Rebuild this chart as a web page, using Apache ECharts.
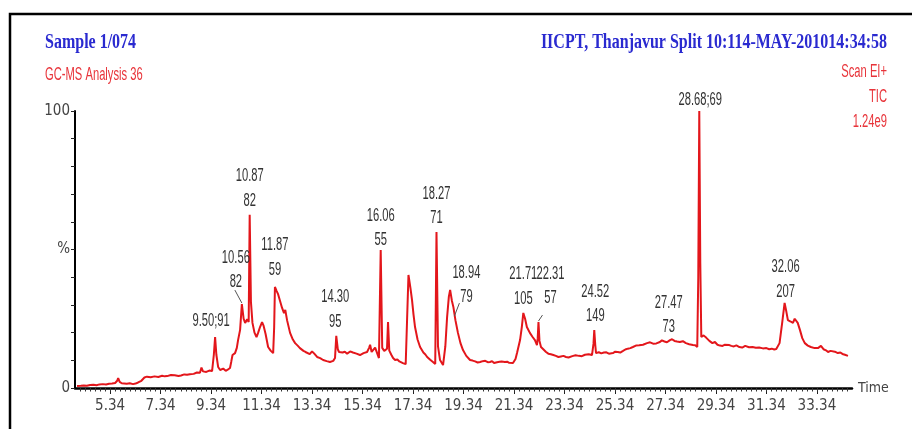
<!DOCTYPE html>
<html>
<head>
<meta charset="utf-8">
<script src="https://cdn.jsdelivr.net/npm/echarts@6/dist/echarts.min.js"></script>
<style>
  html, body { margin: 0; padding: 0; background: #fff; }
  #chart { width: 912px; height: 429px; }
</style>
</head>
<body>
<div id="chart"></div>
<script>
// Total ion chromatogram as [retention time (min), relative intensity (%)]
const traceEarly = [
  [4.03, 0.7], [4.18, 0.8], [4.30, 0.9], [4.42, 0.8], [4.55, 1.1], [4.68, 1.2], [4.80, 1.0], [4.92, 1.3],
  [5.05, 1.4], [5.18, 1.3], [5.30, 1.5], [5.42, 1.6], [5.54, 1.8], [5.62, 2.6], [5.66, 3.6], [5.72, 2.2],
  [5.80, 1.7], [5.90, 1.6], [6.00, 1.5], [6.12, 1.7], [6.25, 1.4], [6.35, 1.6], [6.45, 2.0], [6.58, 2.6],
  [6.70, 3.8], [6.80, 4.1], [6.95, 3.9], [7.10, 4.2], [7.25, 4.0], [7.40, 4.4], [7.50, 4.2], [7.60, 4.3],
  [7.75, 4.7], [7.90, 4.6], [8.05, 4.3], [8.15, 4.5], [8.28, 4.9], [8.39, 4.8], [8.50, 5.0], [8.65, 5.1],
  [8.78, 5.6], [8.90, 5.5], [8.96, 7.4], [9.02, 6.0], [9.15, 5.8], [9.27, 6.3], [9.38, 6.1], [9.45, 12.0],
  [9.50, 18.4], [9.55, 12.0], [9.62, 7.6], [9.70, 6.5], [9.82, 7.0], [9.92, 6.2], [10.00, 6.6], [10.09, 7.2],
  [10.14, 9.5], [10.19, 11.9], [10.29, 12.6], [10.36, 14.5], [10.41, 17.3], [10.49, 21.0], [10.56, 30.3],
  [10.63, 25.0], [10.69, 23.5], [10.77, 24.8], [10.83, 23.8], [10.87, 62.5], [10.92, 31.0], [10.98, 23.5],
  [11.06, 20.0], [11.14, 18.4], [11.20, 19.8], [11.28, 22.0], [11.36, 23.8], [11.42, 22.5], [11.50, 19.5],
  [11.60, 14.8], [11.70, 13.5], [11.80, 12.6], [11.84, 22.0], [11.87, 36.5], [11.94, 35.0], [11.99, 34.0]
];
const traceMid = [
  [12.07, 31.5], [12.15, 29.0], [12.23, 27.0], [12.28, 28.2], [12.35, 24.5], [12.47, 19.9], [12.58, 17.5],
  [12.67, 16.2], [12.78, 15.2], [12.86, 14.4], [12.93, 14.8], [13.00, 13.4], [13.08, 13.0], [13.14, 12.6],
  [13.25, 12.2], [13.34, 13.2], [13.42, 12.5], [13.54, 11.2], [13.60, 11.6], [13.66, 10.8], [13.78, 10.1],
  [13.85, 10.4], [13.92, 9.7], [14.05, 9.4], [14.18, 9.8], [14.25, 10.8], [14.30, 18.8], [14.36, 14.0],
  [14.41, 13.0], [14.48, 13.5], [14.55, 12.8], [14.64, 13.1], [14.73, 12.4], [14.85, 13.2], [14.96, 12.8],
  [15.03, 13.3], [15.10, 12.4], [15.17, 12.1], [15.24, 11.9], [15.31, 12.3], [15.38, 12.6], [15.45, 12.2],
  [15.52, 13.0], [15.60, 14.5], [15.64, 15.6], [15.70, 13.0], [15.76, 13.2], [15.84, 14.6], [15.91, 14.2],
  [15.99, 10.8], [16.06, 49.8], [16.12, 14.5], [16.20, 13.4], [16.31, 14.2], [16.35, 23.8], [16.40, 13.5],
  [16.48, 12.0], [16.55, 10.8], [16.63, 10.1], [16.72, 10.3], [16.80, 9.6], [16.94, 9.0], [17.05, 8.6],
  [17.10, 8.3], [17.16, 40.8], [17.24, 36.0], [17.30, 31.8], [17.36, 26.5], [17.42, 22.0], [17.52, 17.5],
  [17.62, 14.8], [17.75, 12.8], [17.83, 12.1], [17.90, 11.2], [18.02, 10.2], [18.13, 9.4], [18.22, 8.7],
  [18.27, 56.3], [18.33, 15.0], [18.41, 10.1], [18.53, 8.3], [18.62, 15.0], [18.69, 25.6], [18.76, 33.0],
  [18.81, 35.4], [18.88, 31.5], [18.94, 29.2], [19.02, 24.5], [19.12, 19.9], [19.22, 16.2], [19.32, 13.7],
  [19.45, 11.6], [19.60, 10.1], [19.70, 9.9], [19.80, 9.6], [19.90, 9.2]
];
const traceLate = [
  [20.00, 9.4], [20.10, 9.7], [20.20, 9.8], [20.30, 9.3], [20.39, 9.4], [20.47, 9.7], [20.55, 9.0],
  [20.67, 9.3], [20.77, 9.5], [20.85, 9.6], [20.92, 9.0], [20.98, 9.4], [21.07, 9.5], [21.15, 9.1],
  [21.22, 8.9], [21.30, 9.0], [21.40, 10.5], [21.46, 12.6], [21.58, 17.3], [21.65, 22.0], [21.71, 27.1],
  [21.78, 25.0], [21.85, 22.0], [21.97, 19.9], [22.07, 18.5], [22.17, 17.3], [22.25, 15.5], [22.28, 18.0],
  [22.31, 23.8], [22.35, 17.0], [22.41, 14.8], [22.50, 14.0], [22.61, 13.0], [22.70, 12.4], [22.80, 12.2],
  [22.90, 11.9], [23.00, 11.6], [23.10, 11.2], [23.20, 11.4], [23.30, 11.6], [23.40, 11.2], [23.50, 11.0],
  [23.65, 11.5], [23.78, 11.8], [23.91, 11.6], [24.03, 11.5], [24.15, 12.0], [24.30, 12.2], [24.43, 11.9],
  [24.49, 16.0], [24.52, 20.9], [24.56, 15.5], [24.59, 12.6], [24.70, 12.9], [24.80, 12.5], [24.90, 12.8],
  [25.00, 12.9], [25.10, 12.4], [25.26, 12.6], [25.35, 13.1], [25.45, 13.0], [25.55, 12.8], [25.66, 13.4],
  [25.75, 13.9], [25.85, 14.2], [25.95, 14.4], [26.05, 14.8], [26.17, 15.3], [26.30, 15.4], [26.45, 15.6],
  [26.61, 16.2], [26.73, 16.5], [26.85, 16.0], [26.98, 16.1], [27.12, 16.6], [27.20, 17.2], [27.30, 16.8],
  [27.40, 16.5], [27.52, 17.3], [27.60, 17.6], [27.70, 17.0], [27.80, 16.8], [27.91, 16.6], [28.03, 16.9],
  [28.15, 16.2], [28.28, 15.8], [28.43, 15.5], [28.52, 15.4], [28.60, 14.8], [28.64, 40.0], [28.68, 100],
  [28.72, 45.0], [28.76, 18.4], [28.85, 19.0], [28.96, 18.1], [29.08, 17.0], [29.20, 16.2], [29.30, 16.6],
  [29.40, 15.6], [29.50, 15.3], [29.60, 15.2], [29.68, 15.6], [29.75, 15.0], [29.87, 15.5], [29.95, 15.2],
  [30.05, 15.0], [30.15, 15.4], [30.27, 14.8], [30.38, 14.6], [30.50, 15.2], [30.65, 14.7], [30.79, 14.8],
  [30.92, 14.5], [31.05, 14.6], [31.20, 14.3], [31.34, 14.4], [31.45, 14.0], [31.55, 14.2], [31.65, 13.9],
  [31.73, 14.1], [31.86, 16.2], [31.97, 24.0], [32.06, 30.7], [32.12, 28.0], [32.19, 24.5], [32.30, 24.0],
  [32.39, 23.5], [32.46, 25.0], [32.51, 25.6], [32.58, 23.5], [32.67, 20.9], [32.76, 18.0], [32.86, 16.2],
  [32.98, 15.3], [33.10, 14.8], [33.25, 14.4], [33.38, 14.4], [33.50, 15.2], [33.60, 14.0], [33.70, 13.6],
  [33.78, 13.0], [33.88, 13.4], [33.95, 12.9], [34.05, 13.1], [34.17, 12.6], [34.27, 12.8], [34.35, 12.3],
  [34.45, 12.0], [34.57, 11.6]
];

// Axis tick labels
const timeTickLabels = [5.34, 7.34, 9.34, 11.34, 13.34, 15.34, 17.34, 19.34, 21.34, 23.34, 25.34, 27.34, 29.34, 31.34, 33.34];
const percentTickLabels = { 0: '0', 50: '%', 100: '100' };

// Annotated peaks: retention time and base-peak m/z
const peakTimes = ['9.50', '10.56', '10.87', '11.87', '14.30', '16.06', '18.27', '18.94', '21.71', '22.31', '24.52', '27.47', '28.68', '32.06'];
const peakIons  = ['91', '82', '82', '59', '95', '55', '71', '79', '105', '57', '149', '73', '69', '207'];
const singleLinePeaks = ['9.50', '28.68'];

// Label placement relative to the peak apex (pixels), and optional leader lines
const peakLabelOffsets = {
  '9.50': [-4, -16], '10.56': [-6, -22], '10.87': [0, -14], '11.87': [0, -17], '14.30': [-1, -14],
  '16.06': [0, -10], '18.27': [0, -14], '18.94': [13, -10], '21.71': [0, -14], '22.31': [12, -24],
  '24.52': [1, -14], '27.47': [0, -13], '28.68': [1, -11], '32.06': [1, -11]
};
const peakLeaders = {
  '10.56': [[-7, -14], [0, -1]],
  '18.94': [[6, -4], [1, 9]],
  '22.31': [[4, -7], [0, -1]]
};

const minorTimeTicks = [];
for (let t = 4.14; t < 34.7; t += 0.2) minorTimeTicks.push(+t.toFixed(2));

const ticTrace = traceEarly.concat(traceMid, traceLate);

const NARROW = '"Liberation Sans Narrow", "Arial Narrow", "DejaVu Sans Condensed", sans-serif';
const chart = echarts.init(document.getElementById('chart'), null, { renderer: 'canvas' });

chart.setOption({
  animation: false,
  backgroundColor: '#ffffff',
  grid: { left: 75, right: 60, top: 111, bottom: 41, outerBoundsMode: 'none' },
  xAxis: [{
    type: 'value', min: 3.95, max: 34.73,
    name: 'Time', nameLocation: 'end', nameGap: 6,
    nameTextStyle: { color: '#444', fontFamily: NARROW, fontSize: 14, verticalAlign: 'middle' },
    axisLine: { show: true, onZero: false, lineStyle: { color: '#000', width: 2.5 } },
    axisTick: { show: true, customValues: timeTickLabels, length: 6, lineStyle: { color: '#222', width: 1 } },
    axisLabel: { customValues: timeTickLabels, formatter: v => v.toFixed(2), color: '#444',
                 fontFamily: NARROW, fontSize: 15, margin: 11 },
    splitLine: { show: false }
  }, {
    type: 'value', min: 3.95, max: 34.73, position: 'bottom',
    axisLine: { show: false },
    axisTick: { show: true, customValues: minorTimeTicks, length: 3.5, lineStyle: { color: '#333', width: 1 } },
    axisLabel: { show: false },
    splitLine: { show: false }
  }],
  yAxis: {
    type: 'value', min: 0, max: 100, interval: 10,
    axisLine: { show: true, lineStyle: { color: '#000', width: 2 } },
    axisTick: { show: true, length: 4, lineStyle: { color: '#222', width: 1 } },
    axisLabel: { formatter: v => percentTickLabels[v] || '', color: '#444', fontFamily: NARROW, fontSize: 15, margin: 5 },
    splitLine: { show: false }
  },
  series: [{
    type: 'line', name: 'TIC', data: ticTrace, xAxisIndex: 0,
    showSymbol: false, symbol: 'none',
    lineStyle: { color: '#e3161b', width: 2 },
    z: 3
  }]
});

// Annotations placed through the chart's own coordinate system
function nearestPoint(t) {
  let best = ticTrace[0];
  for (const p of ticTrace) {
    if (Math.abs(p[0] - t) < Math.abs(best[0] - t)) best = p;
  }
  return best;
}

const LABEL_FONT = '14px "Liberation Sans", Arial, sans-serif';
const stretchText = (x, y, text, font, fill, align) => ({
  type: 'text', x, y, scaleX: 0.8, scaleY: 1.29, z: 10,
  style: { text, font, fill, align: align || 'center', verticalAlign: 'middle' }
});

const graphics = [];
peakTimes.forEach((pt, k) => {
  const t = parseFloat(pt);
  const apex = chart.convertToPixel({ seriesIndex: 0 }, [t, nearestPoint(t)[1]]);
  const off = peakLabelOffsets[pt];
  const lx = apex[0] + off[0], ly = apex[1] + off[1];
  if (singleLinePeaks.includes(pt)) {
    graphics.push(stretchText(lx, ly, pt + ';' + peakIons[k], LABEL_FONT, '#333'));
  } else {
    graphics.push(stretchText(lx, ly, peakIons[k], LABEL_FONT, '#333'));
    graphics.push(stretchText(lx, ly - 24.5, pt, LABEL_FONT, '#333'));
  }
  const leader = peakLeaders[pt];
  if (leader) {
    graphics.push({
      type: 'line', z: 9,
      shape: { x1: apex[0] + leader[0][0], y1: apex[1] + leader[0][1], x2: apex[0] + leader[1][0], y2: apex[1] + leader[1][1] },
      style: { stroke: '#555', lineWidth: 1 }
    });
  }
});

// Page frame and header texts
graphics.push({ type: 'rect', z: 0, shape: { x: 10, y: 14, width: 1000, height: 1000 },
                style: { fill: 'none', stroke: '#000', lineWidth: 2.5 } });
graphics.push({ type: 'text', x: 45, y: 43, scaleY: 1.3, z: 10,
  style: { text: 'Sample 1/074', font: 'bold 16px "Liberation Serif", "Times New Roman", serif', fill: '#2a2ad0', align: 'left', verticalAlign: 'middle' } });
graphics.push({ type: 'text', x: 887, y: 43, scaleY: 1.3, z: 10,
  style: { text: 'IICPT, Thanjavur Split 10:114-MAY-201014:34:58', font: 'bold 16px "Liberation Serif", "Times New Roman", serif', fill: '#2a2ad0', align: 'right', verticalAlign: 'middle' } });
graphics.push(stretchText(45, 75, 'GC-MS Analysis 36', LABEL_FONT, '#e8343a', 'left'));
graphics.push(stretchText(887, 72, 'Scan EI+', LABEL_FONT, '#e8343a', 'right'));
graphics.push(stretchText(887, 97, 'TIC', LABEL_FONT, '#e8343a', 'right'));
graphics.push(stretchText(887, 122, '1.24e9', LABEL_FONT, '#e8343a', 'right'));

chart.setOption({ graphic: graphics });
</script>
</body>
</html>
